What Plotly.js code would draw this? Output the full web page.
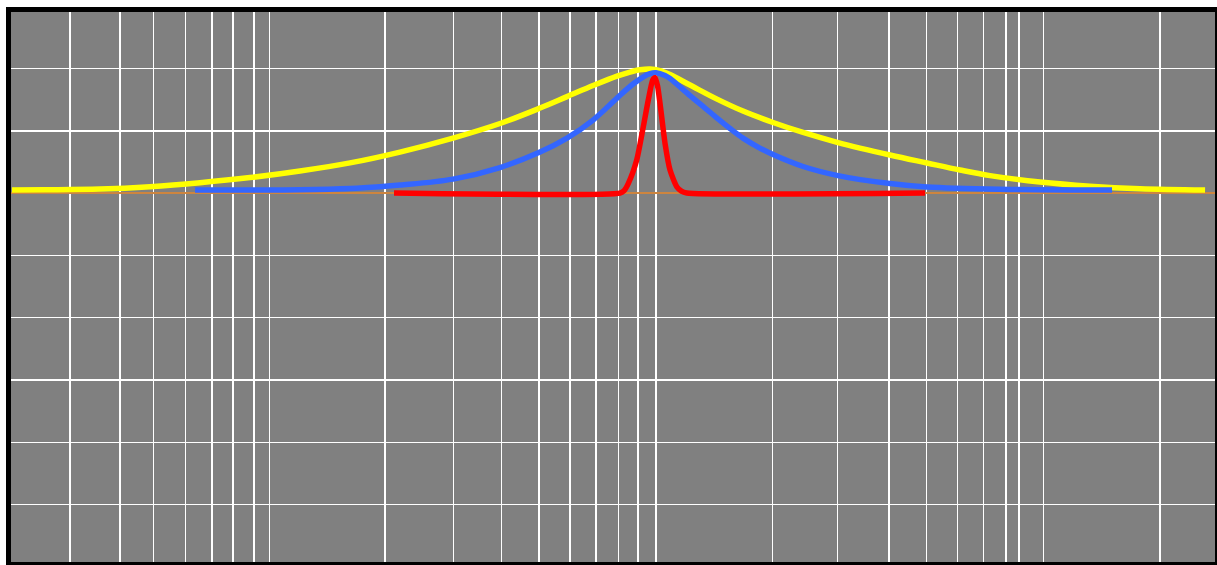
<!DOCTYPE html>
<html>
<head>
<meta charset="utf-8">
<script src="https://cdn.plot.ly/plotly-3.0.1.min.js"></script>
<style>html,body{margin:0;padding:0;background:#fff;}#chart{width:1217px;height:565px;}</style>
</head>
<body>
<div id="chart"></div>
<script>
// Vertical grid positions (log x axis)
const xTickVals = [0.154, 0.207, 0.253, 0.306, 0.358, 0.405, 0.459, 0.503, 1,
  1.5, 2, 2.5, 3, 3.5, 4, 4.5, 5, 10,
  14.7, 20, 25, 30, 35, 40, 43.3, 50, 100];

// Yellow (widest) curve
const yellowX = [0.109, 0.1327, 0.1838, 0.2474, 0.3332, 0.4483, 0.6034, 0.8122, 1.093, 1.498, 1.981, 2.512, 2.949, 3.442, 3.969, 4.289, 4.55, 4.83, 5.125, 5.439, 6.125, 7.192, 8.391, 10.03, 11.99, 14.76, 20.1, 25.05, 30.47, 36.42, 49.01, 65.98, 88.81, 130.7];
const yellowY = [0.024, 0.026, 0.032, 0.051, 0.083, 0.124, 0.177, 0.242, 0.329, 0.441, 0.558, 0.682, 0.774, 0.863, 0.939, 0.971, 0.989, 0.995, 0.983, 0.951, 0.867, 0.754, 0.658, 0.566, 0.486, 0.405, 0.305, 0.241, 0.185, 0.140, 0.088, 0.055, 0.035, 0.024];

// Blue (medium) curve
const blueX = [0.3234, 0.4483, 0.6034, 0.8122, 0.9707, 1.093, 1.498, 1.981, 2.512, 2.949, 3.442, 3.969, 4.365, 4.632, 4.83, 5.005, 5.279, 5.439, 6.125, 6.697, 7.192, 7.77, 8.391, 9.175, 10.03, 11.99, 14.76, 20.1, 25.05, 38.64, 75.18];
const blueY = [0.024, 0.024, 0.027, 0.037, 0.051, 0.064, 0.112, 0.205, 0.329, 0.441, 0.586, 0.762, 0.875, 0.931, 0.959, 0.965, 0.943, 0.919, 0.782, 0.682, 0.602, 0.518, 0.441, 0.369, 0.309, 0.213, 0.140, 0.076, 0.048, 0.030, 0.024];

// Red (narrow) curve
const redX = [1.055, 4.042, 4.14, 4.246, 4.462, 4.64, 4.779, 4.907, 4.975, 5.05, 5.125, 5.28, 5.439, 5.661, 5.82, 6.006, 24.75];
const redY = [0, 0, 0.02, 0.078, 0.265, 0.532, 0.746, 0.907, 0.925, 0.86, 0.72, 0.399, 0.185, 0.051, 0.015, 0, 0];

const traces = [
  {x: yellowX, y: yellowY, type: 'scatter', mode: 'lines',
   line: {color: '#ffff00', width: 5.5, shape: 'spline', smoothing: 1}, hoverinfo: 'skip'},
  {x: blueX, y: blueY, type: 'scatter', mode: 'lines',
   line: {color: '#3366ff', width: 5.5, shape: 'spline', smoothing: 1}, hoverinfo: 'skip'},
  {x: redX, y: redY, type: 'scatter', mode: 'lines',
   line: {color: '#ff0000', width: 5.5, shape: 'spline', smoothing: 0.6}, hoverinfo: 'skip'}
];

const layout = {
  width: 1217, height: 565,
  margin: {l: 11, r: 2, t: 12, b: 3, pad: 0},
  paper_bgcolor: '#ffffff',
  plot_bgcolor: '#808080',
  showlegend: false,
  xaxis: {
    type: 'log', range: [-0.9652, 2.1419],
    tickmode: 'array', tickvals: xTickVals, showticklabels: false,
    showgrid: true, gridcolor: '#ffffff', gridwidth: 1.5,
    ticks: 'outside', ticklen: 5, tickcolor: '#ffffff', tickwidth: 1.5,
    showline: true, linecolor: '#000000', linewidth: 5, mirror: 'ticks',
    zeroline: false, fixedrange: true
  },
  yaxis: {
    type: 'linear', range: [-2.961, 1.453],
    tick0: 0, dtick: 0.5, showticklabels: false,
    showgrid: true, gridcolor: '#ffffff', gridwidth: 1.5,
    ticks: 'outside', ticklen: 5, tickcolor: '#ffffff', tickwidth: 1.5,
    showline: true, linecolor: '#000000', linewidth: 5, mirror: 'ticks',
    zeroline: true, zerolinecolor: '#cd853f', zerolinewidth: 2, fixedrange: true
  }
};

Plotly.newPlot('chart', traces, layout, {displayModeBar: false, staticPlot: true});
</script>
</body>
</html>
